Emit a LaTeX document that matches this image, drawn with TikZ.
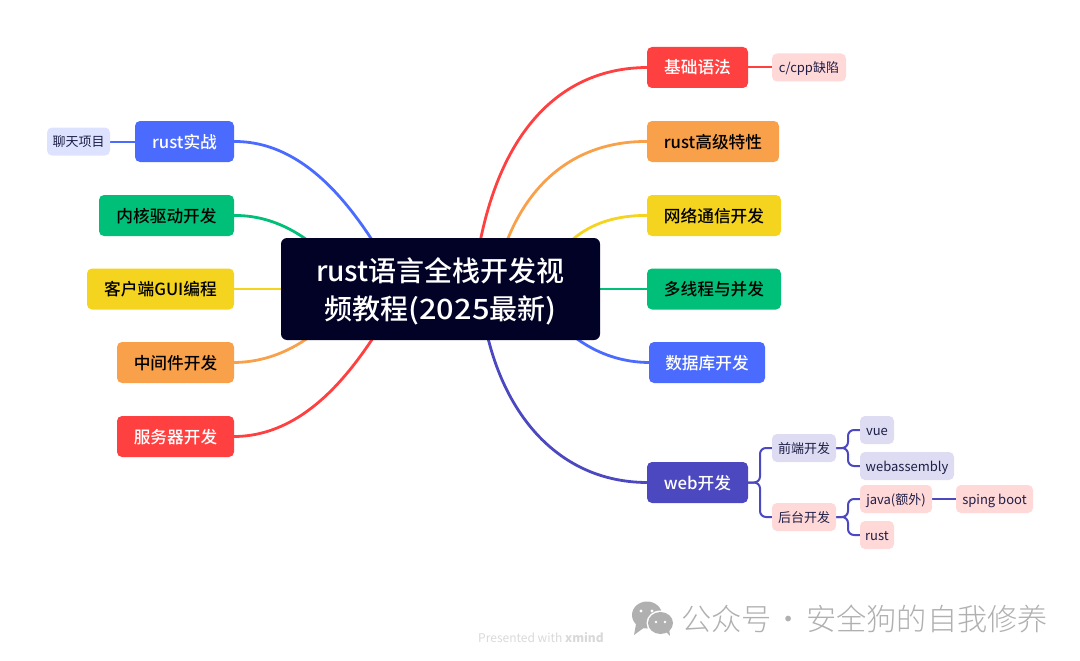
\documentclass[tikz,border=0pt]{standalone}
\usepackage{fontspec}
\setmainfont{Noto Sans CJK SC}
\newfontfamily\medfont{Noto Sans CJK SC Medium}
\newfontfamily\widefont{Noto Sans CJK SC Medium}[FakeStretch=1.1]
\newfontfamily\lightfont{Noto Sans CJK SC Light}
\usepackage{xcolor}
\usetikzlibrary{backgrounds}
\definecolor{rootink}{RGB}{2,2,38}
\definecolor{redtopic}{RGB}{255,64,64}
\definecolor{orangetopic}{RGB}{249,161,74}
\definecolor{yellowtopic}{RGB}{244,212,30}
\definecolor{greentopic}{RGB}{0,191,120}
\definecolor{bluetopic}{RGB}{75,107,255}
\definecolor{indigotopic}{RGB}{75,72,192}
\definecolor{palered}{RGB}{255,216,216}
\definecolor{paleblue}{RGB}{221,227,255}
\definecolor{paleindigo}{RGB}{221,220,242}
\definecolor{subink}{RGB}{30,30,70}
\definecolor{markgray}{RGB}{176,176,176}
\tikzset{
  topic/.style={rounded corners=5pt, minimum height=41pt, inner sep=0pt, text height=16pt, text depth=3pt, font=\fontsize{16.7pt}{18pt}\medfont},
  subtopic/.style={rounded corners=5pt, minimum height=28pt, inner sep=0pt, text=subink, text height=13pt, text depth=3pt, font=\fontsize{13pt}{15pt}\selectfont},
  branch/.style={line width=2.8pt},
  twig/.style={line width=2pt, indigotopic, rounded corners=6pt},
}
\begin{document}
\begin{tikzpicture}[x=1pt,y=-1pt]
  \useasboundingbox (0,0) rectangle (1080,661);
  % central topic
  \node[rounded corners=6pt, fill=rootink, text=white, minimum width=319pt, minimum height=102pt, inner sep=0pt, align=center, font=\fontsize{28pt}{38pt}\medfont] (root) at (440.5,289) {\rule{0pt}{28pt}rust语言全栈开发视\\频教程{\widefont (2025}最新{\widefont )}};
  % right side
  \node[topic, fill=redtopic, text=white, minimum width=101pt] (jichu) at (697.5,67.5) {基础语法};
  \node[topic, fill=orangetopic, minimum width=132pt] (gaoji) at (713,141.5) {rust高级特性};
  \node[topic, fill=yellowtopic, minimum width=134pt] (wangluo) at (714,215.5) {网络通信开发};
  \node[topic, fill=greentopic, minimum width=134pt] (duoxian) at (714,289) {多线程与并发};
  \node[topic, fill=bluetopic, text=white, minimum width=116pt] (shuju) at (707,362.5) {数据库开发};
  \node[topic, fill=indigotopic, text=white, minimum width=101pt] (web) at (697.5,482.5) {web开发};
  % left side
  \node[topic, fill=bluetopic, text=white, minimum width=99pt] (shizhan) at (184.5,141.5) {rust实战};
  \node[topic, fill=greentopic, minimum width=135pt] (neihe) at (166.5,215.5) {内核驱动开发};
  \node[topic, fill=yellowtopic, minimum width=147pt] (kehu) at (160.5,289) {客户端GUI编程};
  \node[topic, fill=orangetopic, minimum width=117pt] (zhongjian) at (175.5,362.5) {中间件开发};
  \node[topic, fill=redtopic, text=white, minimum width=117pt] (fuwu) at (175.5,436.5) {服务器开发};
  % small topics
  \node[subtopic, fill=palered, minimum width=74pt] (cpp) at (809,67.5) {c/cpp缺陷};
  \node[subtopic, fill=paleblue, minimum width=63pt] (liaotian) at (78.5,141.5) {聊天项目};
  \node[subtopic, fill=paleindigo, minimum width=64pt] (qian) at (804,448) {前端开发};
  \node[subtopic, fill=palered, minimum width=64pt] (hou) at (804,517) {后台开发};
  \node[subtopic, fill=paleindigo, minimum width=34pt] (vue) at (877,430) {vue};
  \node[subtopic, fill=paleindigo, minimum width=94pt] (wasm) at (907,466) {webassembly};
  \node[subtopic, fill=palered, minimum width=72pt] (java) at (896,499) {java(额外)};
  \node[subtopic, fill=palered, minimum width=77pt] (sping) at (994.5,499) {sping boot};
  \node[subtopic, fill=palered, minimum width=34pt] (rust) at (877,535) {rust};
  % hidden ends of the curves
  \coordinate (ra) at (473,290);
  \coordinate (rb) at (493,290);
  \coordinate (rc) at (550,270);
  \coordinate (rd) at (480,290);
  \coordinate (re) at (547,310);
  \coordinate (la) at (403,290);
  \coordinate (lb) at (335,265);
  \coordinate (lc) at (335,314);
  \begin{scope}[on background layer]
    \draw[branch, redtopic] (ra) .. controls (488,140) and (555,68) .. (jichu.west);
    \draw[branch, orangetopic] (rb) .. controls (512,190) and (570,141) .. (gaoji.west);
    \draw[branch, yellowtopic] (rc) .. controls (566,235) and (600,215) .. (wangluo.west);
    \draw[branch, greentopic] (root.center |- duoxian.west) -- (duoxian.west);
    \draw[branch, bluetopic] (re) .. controls (567,335) and (600,362) .. (shuju.west);
    \draw[branch, indigotopic] (rd) .. controls (490,400) and (550,482) .. (web.west);
    \draw[branch, bluetopic] (la) .. controls (377,250) and (325,141) .. (shizhan.east);
    \draw[branch, greentopic] (lb) .. controls (312,240) and (278,215) .. (neihe.east);
    \draw[branch, yellowtopic] (kehu.east) -- (root.center |- kehu.east);
    \draw[branch, orangetopic] (lc) .. controls (312,339) and (278,362) .. (zhongjian.east);
    \draw[branch, redtopic] (la) .. controls (377,330) and (325,436) .. (fuwu.east);
    \draw[line width=2pt, redtopic] (jichu) -- (cpp);
    \draw[line width=2pt, bluetopic] (shizhan) -- (liaotian);
    \draw[twig] (web.east) -- (760,482.5) |- (qian.west);
    \draw[twig] (web.east) -- (760,482.5) |- (hou.west);
    \draw[twig] (qian.east) -- (848,448) |- (vue.west);
    \draw[twig] (qian.east) -- (848,448) |- (wasm.west);
    \draw[twig] (hou.east) -- (848,517) |- (java.west);
    \draw[twig] (hou.east) -- (848,517) |- (rust.west);
    \draw[twig] (java) -- (sping);
  \end{scope}
  % watermark
  \fill[markgray] (647,615) ellipse (15pt and 13.5pt);
  \fill[markgray] (636,624) -- (634,635) -- (645,627) -- cycle;
  \fill[white] (660.5,623) ellipse (14pt and 12.5pt);
  \fill[markgray] (660.5,623) ellipse (12.5pt and 11pt);
  \fill[markgray] (665,631) -- (670,636) -- (669,628) -- cycle;
  \fill[white] (641,611) circle (1.7pt) (652,611) circle (1.7pt) (656,622) circle (1.4pt) (665,622) circle (1.4pt);
  \node[inner sep=0pt, anchor=west, text=markgray, font=\fontsize{30.2pt}{32pt}\lightfont] (mark) at (681,618.5) {公众号\kern-4.5pt{} · \kern-4.5pt{}安全狗的自我修养};
  \node[inner sep=0pt, text=black!15, font=\fontsize{12pt}{14pt}\selectfont] (xmind) at (541,638) {Presented with \textbf{xmind}};
\end{tikzpicture}
\end{document}
